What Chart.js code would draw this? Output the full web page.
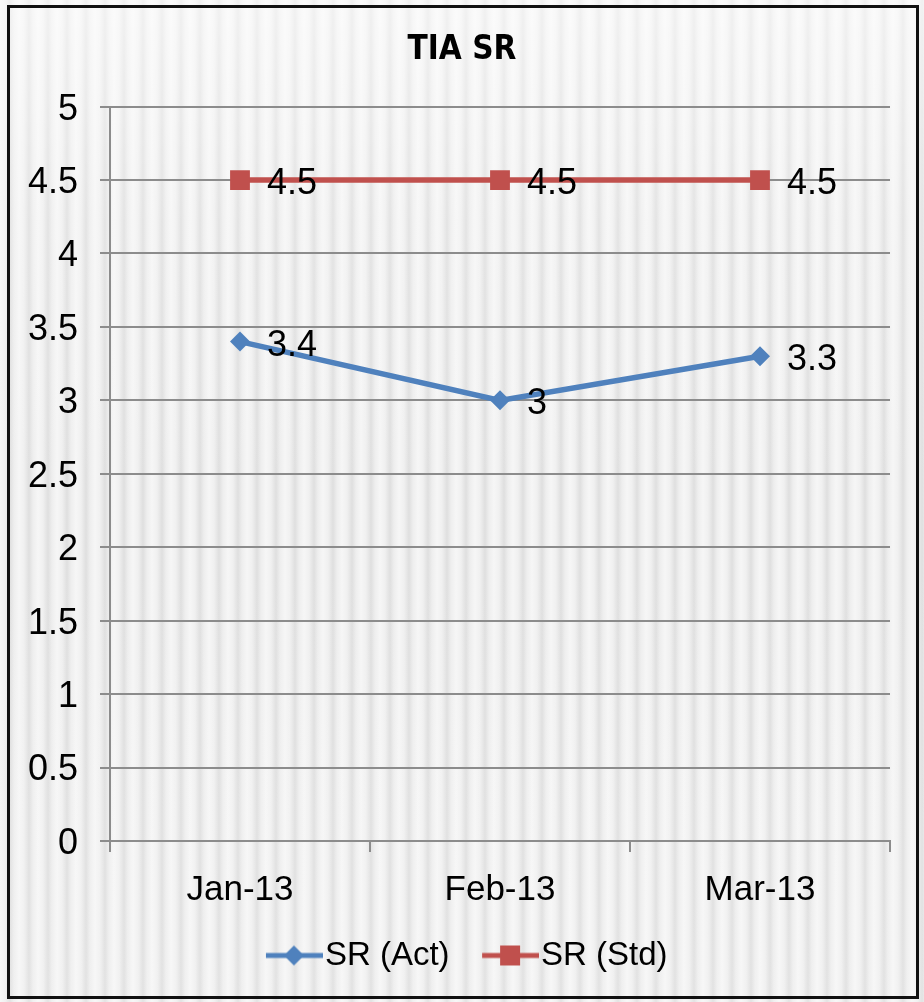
<!DOCTYPE html>
<html>
<head>
<meta charset="utf-8">
<script src="https://cdn.jsdelivr.net/npm/chart.js@4/dist/chart.umd.min.js"></script>
<style>
  html, body { margin:0; padding:0; width:924px; height:1002px; overflow:hidden; }
  body {
    background:
      linear-gradient(180deg, rgba(255,255,255,0.55) 0px, rgba(255,255,255,0.15) 220px, rgba(255,255,255,0) 500px, rgba(255,255,255,0.1) 1002px),
      repeating-linear-gradient(90deg, #f6f6f6 0px, #f0f0f0 5px, #dfdfdf 10px, #eeeeee 14px, #f6f6f6 19px);
  }
  #wrap { position:absolute; left:0; top:0; width:924px; height:1002px; }
  #frame { position:absolute; left:7px; top:5px; width:912px; height:994px; box-sizing:border-box; border:3px solid #111; pointer-events:none; }
</style>
</head>
<body>
<div id="wrap"><canvas id="chartTiaSr" width="924" height="1002"></canvas></div>
<div id="frame"></div>
<script>
const C = { blue:"#4F81BD", red:"#C0504D", grid:"#8c8c8c", ink:"#000000" };

const months = ["Jan-13","Feb-13","Mar-13"];
const srAct = [3.4, 3, 3.3];
const srStd = [4.5, 4.5, 4.5];
const seriesNames = ["SR (Act)","SR (Std)"];
const yTicks = [0,0.5,1,1.5,2,2.5,3,3.5,4,4.5,5];

// legend swatch: line with marker in the middle (excel style), transparent pad on the left
function swatch(color, shape){
  const c = document.createElement("canvas");
  c.width = 81; c.height = 28;
  const g = c.getContext("2d");
  g.strokeStyle = color; g.lineWidth = 5;
  g.beginPath(); g.moveTo(24,14); g.lineTo(81,14); g.stroke();
  g.fillStyle = color;
  if(shape==="diamond"){
    g.beginPath(); g.moveTo(52,4); g.lineTo(62,14); g.lineTo(52,24); g.lineTo(42,14); g.closePath(); g.fill();
  } else {
    g.fillRect(42,4,20,20);
  }
  return c;
}
const swatches = [swatch(C.blue,"diamond"), swatch(C.red,"square")];

const valueLabels = {
  id:"valueLabels",
  afterDatasetsDraw(chart){
    const ctx = chart.ctx;
    ctx.save();
    ctx.font = "36px 'Liberation Sans', Arial, sans-serif";
    ctx.fillStyle = C.ink;
    ctx.textAlign = "left";
    ctx.textBaseline = "middle";
    chart.data.datasets.forEach((ds, i)=>{
      const meta = chart.getDatasetMeta(i);
      meta.data.forEach((pt, j)=>{
        ctx.fillText(String(ds.data[j]), pt.x + 27, pt.y + 4);
      });
    });
    ctx.restore();
  }
};

new Chart(document.getElementById("chartTiaSr"), {
  type:"line",
  data:{
    labels:months,
    datasets:[
      { label:seriesNames[0], data:srAct, borderColor:C.blue, backgroundColor:C.blue, borderWidth:5.5,
        pointStyle:"rectRot", pointRadius:10, pointHoverRadius:10, pointBorderWidth:0, tension:0 },
      { label:seriesNames[1], data:srStd, borderColor:C.red, backgroundColor:C.red, borderWidth:5.5,
        pointStyle:"rect", pointRadius:14, pointHoverRadius:14, pointBorderWidth:0, tension:0 }
    ]
  },
  options:{
    responsive:false, animation:false,
    layout:{ padding:{ left:0, right:0, top:0, bottom:20 } },
    plugins:{
      title:{ display:true, text:"TIA SR", color:C.ink,
        font:{ family:"'Liberation Sans Narrow', 'DejaVu Sans Condensed', Arial", size:33, weight:"bold" },
        padding:{ top:31, bottom:36 } },
      legend:{ position:"bottom",
        labels:{ usePointStyle:true, pointStyleWidth:52, padding:23, color:C.ink,
          font:{ family:"'Liberation Sans', Arial", size:33 },
          generateLabels(chart){
            return chart.data.datasets.map((ds,i)=>({
              text:ds.label, pointStyle:swatches[i], fillStyle:ds.borderColor,
              strokeStyle:ds.borderColor, lineWidth:0, datasetIndex:i, hidden:false
            }));
          } } },
      tooltip:{ enabled:false }
    },
    scales:{
      x:{ offset:true,
        grid:{ offset:true, drawOnChartArea:false, drawTicks:true, tickLength:11, color:C.grid, lineWidth:2 },
        border:{ color:C.grid, width:2 },
        ticks:{ color:C.ink, padding:17, font:{ family:"'Liberation Sans', Arial", size:35 } },
        afterFit(s){ s.height = 75; } },
      y:{ min:0, max:5,
        afterBuildTicks(s){ s.ticks = yTicks.map(v=>({ value:v })); },
        grid:{ color:C.grid, lineWidth:2, tickLength:10 },
        border:{ color:C.grid, width:2 },
        ticks:{ color:C.ink, padding:22, labelOffset:3, font:{ family:"'Liberation Sans', Arial", size:36 }, callback:v=>String(v) },
        afterFit(s){ s.width = 110; } },
      // empty right margin so the title and legend centre on the whole page
      yRight:{ position:"right", min:0, max:5,
        grid:{ display:false }, border:{ display:false }, ticks:{ display:false },
        afterFit(s){ s.width = 34; } }
    }
  },
  plugins:[valueLabels]
});
</script>
</body>
</html>
